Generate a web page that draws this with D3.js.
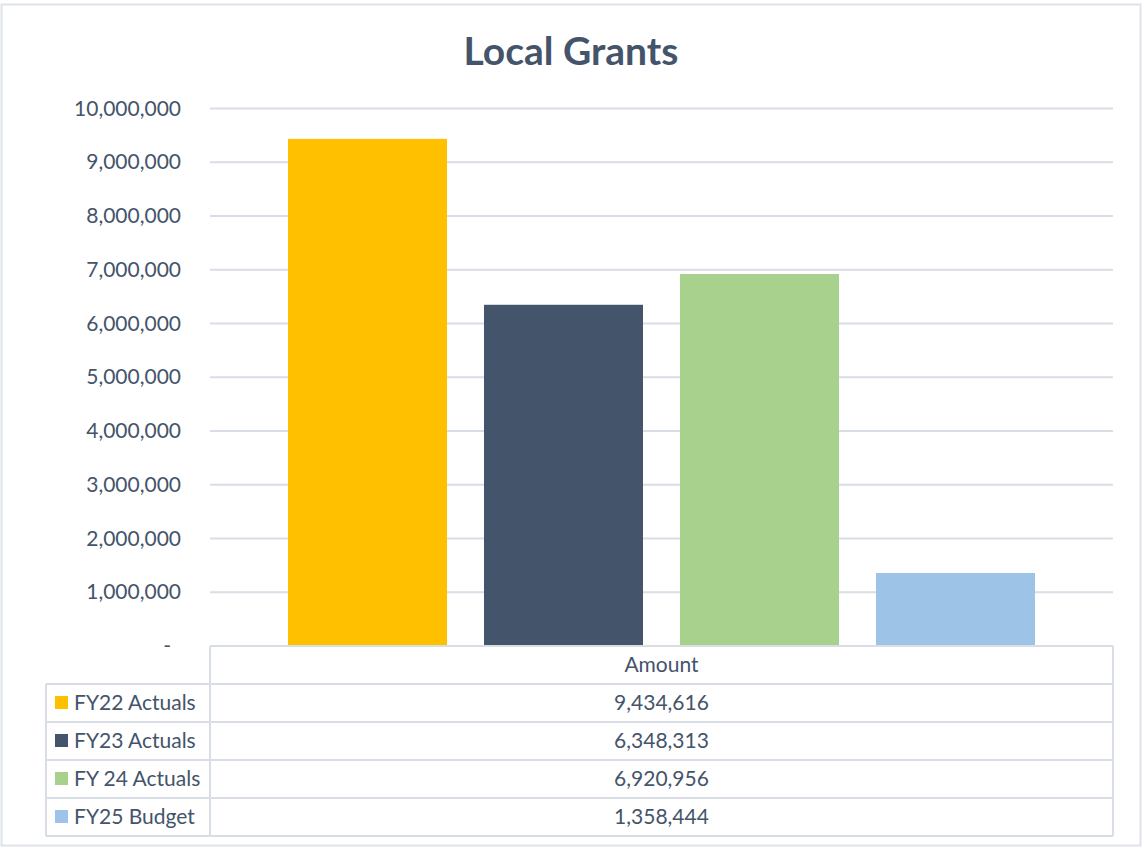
<!DOCTYPE html>
<html>
<head>
<meta charset="utf-8">
<script src="https://cdn.jsdelivr.net/npm/d3@7"></script>
<style>
  body { margin: 0; background: #fff; }
  svg { display: block; font-family: Lato, "Open Sans", sans-serif; }
</style>
</head>
<body>
<svg width="1142" height="847"></svg>
<script>
const categories = ['Amount'];
const seriesNames = ['FY22 Actuals', 'FY23 Actuals', 'FY 24 Actuals', 'FY25 Budget'];
const seriesValues = [9434616, 6348313, 6920956, 1358444];
const seriesColors = ['#FFC000', '#44546A', '#A9D18E', '#9DC3E6'];
const yTicks = [0, 1000000, 2000000, 3000000, 4000000, 5000000, 6000000, 7000000, 8000000, 9000000, 10000000];

const textColor = '#44546A';
const gridColor = '#D9DEE6';
const fontSize = 21;

const svg = d3.select('svg');
const plotLeft = 210, plotRight = 1113, plotTop = 108.5, plotBottom = 646;

// chart frame
svg.append('rect')
    .attr('x', 1.5).attr('y', 4.5)
    .attr('width', 1139).attr('height', 841)
    .attr('fill', '#fff')
    .attr('stroke', '#DEE3EA').attr('stroke-width', 2);

svg.append('text')
    .attr('x', 571).attr('y', 65)
    .attr('text-anchor', 'middle')
    .attr('font-size', 39).attr('font-weight', 700)
    .attr('fill', textColor)
    .text('Local Grants');

const y = d3.scaleLinear().domain([0, 10000000]).range([plotBottom, plotTop]);
const x0 = d3.scaleBand().domain(categories).range([plotLeft, plotRight]);
const x1 = d3.scaleBand().domain(seriesNames)
    .range([0, x0.bandwidth()])
    .paddingInner(0.1888).paddingOuter(0.398);

const fmt = d3.format(',');

// gridlines
svg.append('g')
    .selectAll('line')
    .data(yTicks.filter(d => d > 0))
    .enter().append('line')
    .attr('x1', plotLeft).attr('x2', plotRight)
    .attr('y1', d => y(d)).attr('y2', d => y(d))
    .attr('stroke', gridColor).attr('stroke-width', 2);

// y axis labels
const yAxis = svg.append('g')
    .attr('transform', `translate(${plotLeft},0)`)
    .call(d3.axisLeft(y).tickValues(yTicks).tickSize(0).tickPadding(29)
        .tickFormat(d => d === 0 ? '-' : fmt(d)));
yAxis.select('.domain').remove();
yAxis.selectAll('text')
    .attr('font-size', fontSize)
    .attr('font-family', 'Lato, "Open Sans", sans-serif')
    .attr('fill', textColor)
    .attr('dx', d => d === 0 ? -10 : 0);

// bars
const cat = categories[0];
svg.append('g')
    .selectAll('rect')
    .data(seriesNames)
    .enter().append('rect')
    .attr('x', d => x0(cat) + x1(d))
    .attr('width', x1.bandwidth())
    .attr('y', (d, i) => y(seriesValues[i]))
    .attr('height', (d, i) => y(0) - y(seriesValues[i]))
    .attr('fill', (d, i) => seriesColors[i]);

// data table
const rowEdges = [646, 684, 722, 760, 798, 836];
const tableLeft = 46;
const tg = svg.append('g');

tg.selectAll('line.h')
    .data(rowEdges)
    .enter().append('line')
    .attr('x1', (d, i) => i === 0 ? plotLeft : tableLeft)
    .attr('x2', plotRight)
    .attr('y1', d => d).attr('y2', d => d)
    .attr('stroke', gridColor).attr('stroke-width', 2);

tg.append('line')
    .attr('x1', plotLeft).attr('x2', plotLeft)
    .attr('y1', rowEdges[0]).attr('y2', rowEdges[5])
    .attr('stroke', gridColor).attr('stroke-width', 2);
tg.append('line')
    .attr('x1', plotRight).attr('x2', plotRight)
    .attr('y1', rowEdges[0]).attr('y2', rowEdges[5])
    .attr('stroke', gridColor).attr('stroke-width', 2);
tg.append('line')
    .attr('x1', tableLeft).attr('x2', tableLeft)
    .attr('y1', rowEdges[1]).attr('y2', rowEdges[5])
    .attr('stroke', gridColor).attr('stroke-width', 2);

const midX = (plotLeft + plotRight) / 2;
tg.append('text')
    .attr('x', midX).attr('y', (rowEdges[0] + rowEdges[1]) / 2 + 7)
    .attr('text-anchor', 'middle')
    .attr('font-size', fontSize).attr('fill', textColor)
    .text(cat);

const rows = tg.selectAll('g.row')
    .data(seriesNames)
    .enter().append('g')
    .attr('class', 'row')
    .attr('transform', (d, i) => `translate(0,${(rowEdges[i + 1] + rowEdges[i + 2]) / 2})`);

rows.append('rect')
    .attr('x', 55).attr('y', -7)
    .attr('width', 13).attr('height', 13)
    .attr('fill', (d, i) => seriesColors[i]);

rows.append('text')
    .attr('x', 74).attr('y', 7)
    .attr('font-size', fontSize).attr('fill', textColor)
    .text(d => d);

rows.append('text')
    .attr('x', midX).attr('y', 7)
    .attr('text-anchor', 'middle')
    .attr('font-size', fontSize).attr('fill', textColor)
    .text((d, i) => fmt(seriesValues[i]));
</script>
</body>
</html>
